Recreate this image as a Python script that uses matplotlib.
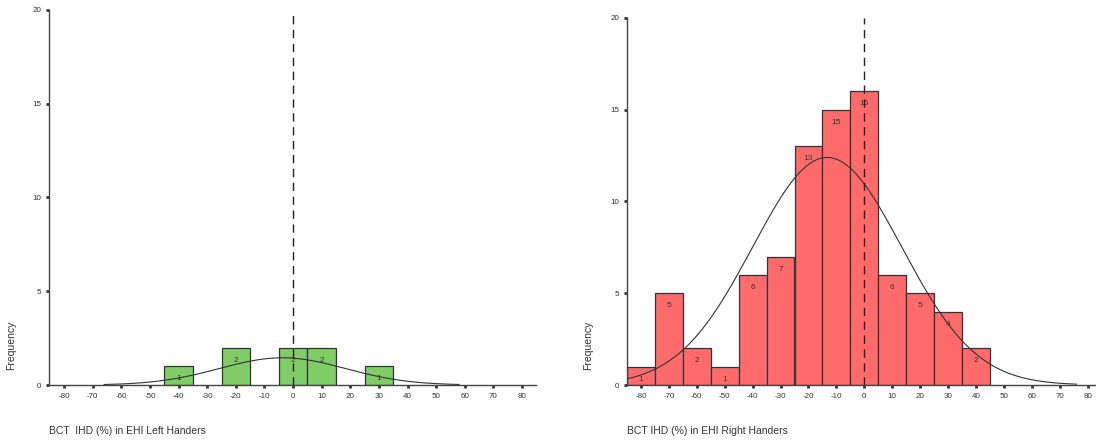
import numpy as np
import matplotlib
matplotlib.use("Agg")
import matplotlib.pyplot as plt

plt.rcParams['font.family'] = ['Liberation Sans', 'DejaVu Sans']
plt.rcParams['axes.unicode_minus'] = False

# ---- data ----
left_centers = [-40, -20, 0, 10, 30]
left_counts = [1, 2, 2, 2, 1]
left_mean, left_sd, left_n = -3.75, 22.0, 8

right_centers = [-80, -70, -60, -50, -40, -30, -20, -10, 0, 10, 20, 30, 40]
right_counts = [1, 5, 2, 1, 6, 7, 13, 15, 16, 6, 5, 4, 2]
right_mean, right_sd, right_n = -13.3, 26.7, 83

bin_width = 10
xticks = list(range(-80, 81, 10))
yticks = [0, 5, 10, 15, 20]
left_xlabel = "BCT  IHD (%) in EHI Left Handers"
right_xlabel = "BCT IHD (%) in EHI Right Handers"

W, H = 1096, 444
fig = plt.figure(figsize=(W / 100, H / 100), dpi=100)
fig.patch.set_facecolor('white')


def px_axes(x0, y_top, x1, y_bot):
    return fig.add_axes([x0 / W, 1 - y_bot / H, (x1 - x0) / W, (y_bot - y_top) / H])


def draw(ax, centers, counts, mean, sd, n, color, xlim, curve_range, xlabel, ylab_xy):
    ax.bar(centers, counts, width=bin_width, color=color, edgecolor='#333333',
           linewidth=0.9, zorder=2)
    for c, v in zip(centers, counts):
        ax.annotate(str(v), (c, v), xytext=(0, -9), textcoords='offset points',
                    ha='center', va='center', fontsize=6, color='#333333', zorder=4)
    xs = np.linspace(curve_range[0], curve_range[1], 300)
    ys = n * bin_width / (sd * np.sqrt(2 * np.pi)) * np.exp(-(xs - mean) ** 2 / (2 * sd ** 2))
    ax.plot(xs, ys, color='#333333', linewidth=0.8, zorder=3)
    ax.axvline(0, color='#222222', linestyle=(0, (6, 4)), linewidth=1.0, zorder=5)
    ax.set_xlim(*xlim)
    ax.set_ylim(0, 20)
    ax.set_xticks(xticks)
    ax.set_yticks(yticks)
    ax.tick_params(axis='both', labelsize=5.8, length=2.5, width=2, color='#333333',
                   labelcolor='#333333', pad=3)
    for s in ['top', 'right']:
        ax.spines[s].set_visible(False)
    for s in ['left', 'bottom']:
        ax.spines[s].set_color('#444444')
        ax.spines[s].set_linewidth(1.0)
    ax.set_facecolor('none')
    ax.set_xlabel(xlabel, fontsize=7.5, color='#333333', loc='left', labelpad=19)
    ax.set_ylabel("Frequency", fontsize=7.5, color='#333333')
    ax.yaxis.set_label_coords(*ylab_xy)


ax1 = px_axes(49, 10, 536, 385)
draw(ax1, left_centers, left_counts, left_mean, left_sd, left_n, '#80CC66',
     (-85.3, 84.9), (-66, 58), left_xlabel, (-0.068, 0.107))

ax2 = px_axes(627, 18, 1096, 385)
draw(ax2, right_centers, right_counts, right_mean, right_sd, right_n, '#FF6B6B',
     (-85.0, 83.0), (-85, 76), right_xlabel, (-0.072, 0.109))

fig.savefig("out.png", dpi=100, facecolor='white')
